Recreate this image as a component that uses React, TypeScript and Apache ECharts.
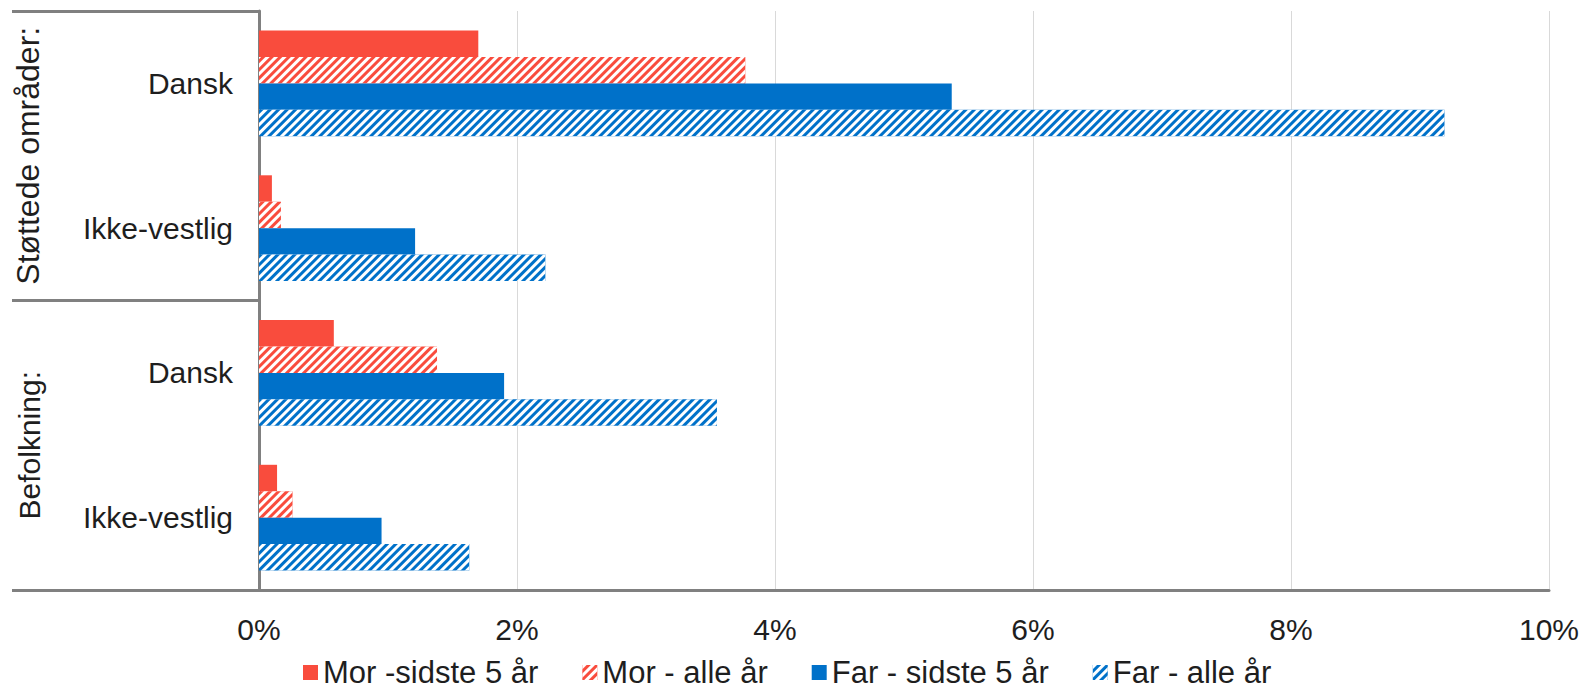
import React, { useEffect, useRef } from "react";
import * as echarts from "echarts";

const groups = ["Støttede områder:", "Befolkning:"];
const categories = ["Dansk", "Ikke-vestlig", "Dansk", "Ikke-vestlig"];
const categoryGroup = [0, 0, 1, 1];
const seriesNames = ["Mor -sidste 5 år", "Mor - alle år", "Far - sidste 5 år", "Far - alle år"];
const morSidste5 = [1.7, 0.1, 0.58, 0.14];
const morAlle = [3.77, 0.17, 1.38, 0.26];
const farSidste5 = [5.37, 1.21, 1.9, 0.95];
const farAlle = [9.19, 2.22, 3.55, 1.63];
const xTicks = [0, 2, 4, 6, 8, 10];

const RED = "#F94C3D";
const BLUE = "#0071C9";
const AXIS = "#808080";
const TXT = "#1e1e1e";
const FONT = "Liberation Sans, Arial, sans-serif";

const hatch = {
  symbol: "rect",
  symbolSize: 1,
  color: "#ffffff",
  dashArrayX: [1, 0],
  dashArrayY: [3, 3],
  rotation: -Math.PI / 4,
};

export default function App() {
  const ref = useRef<HTMLDivElement>(null);
  useEffect(() => {
    if (!ref.current) return;
    const chart = echarts.init(ref.current, undefined, { renderer: "svg" });
    const keys = categories.map((c, i) => groups[categoryGroup[i]] + "|" + c);
    const mk = (name: string, data: number[], color: string, hatched: boolean) => ({
      name,
      type: "bar",
      data,
      barGap: "0%",
      barCategoryGap: "27%",
      itemStyle: hatched ? { color, decal: hatch } : { color },
    });
    chart.setOption({
      animation: false,
      textStyle: { fontFamily: FONT },
      grid: { left: 259, right: 46, top: 11, bottom: 99, containLabel: false },
      legend: {
        top: 657,
        left: 303,
        padding: 0,
        itemWidth: 15,
        itemHeight: 15,
        itemGap: 44,
        icon: "rect",
        textStyle: { fontSize: 31, lineHeight: 31, color: TXT, fontFamily: FONT },
        data: seriesNames,
      },
      xAxis: {
        type: "value",
        min: xTicks[0],
        max: xTicks[xTicks.length - 1],
        interval: xTicks[1] - xTicks[0],
        axisLine: { show: true, lineStyle: { color: AXIS, width: 3 } },
        axisTick: { show: false },
        splitLine: { show: true, lineStyle: { color: "#D9D9D9", width: 1 } },
        axisLabel: {
          formatter: "{value}%",
          fontSize: 30,
          color: TXT,
          margin: 24,
          fontFamily: FONT,
        },
      },
      yAxis: [
        {
          type: "category",
          inverse: true,
          data: keys,
          axisLine: { show: true, lineStyle: { color: AXIS, width: 3 } },
          axisTick: { show: false },
          axisLabel: {
            interval: 0,
            formatter: (v: string) => v.split("|")[1],
            fontSize: 30,
            color: TXT,
            margin: 26,
            fontFamily: FONT,
          },
        },
        {
          type: "category",
          inverse: true,
          position: "left",
          data: [
            { value: groups[0], textStyle: { fontSize: 32 } },
            { value: groups[1], textStyle: { fontSize: 30 } },
          ],
          axisLine: { show: false },
          axisTick: {
            show: true,
            interval: 0,
            length: 247,
            lineStyle: { color: AXIS, width: 3 },
          },
          axisLabel: {
            interval: 0,
            rotate: 90,
            fontSize: 30,
            color: TXT,
            margin: 215,
            fontFamily: FONT,
          },
          splitLine: { show: false },
        },
      ],
      series: [
        mk(seriesNames[0], morSidste5, RED, false),
        mk(seriesNames[1], morAlle, RED, true),
        mk(seriesNames[2], farSidste5, BLUE, false),
        mk(seriesNames[3], farAlle, BLUE, true),
      ],
    });
    return () => chart.dispose();
  }, []);
  return (
    <div
      ref={ref}
      style={{ position: "fixed", left: 0, top: 0, width: 1595, height: 689, background: "#fff" }}
    />
  );
}
